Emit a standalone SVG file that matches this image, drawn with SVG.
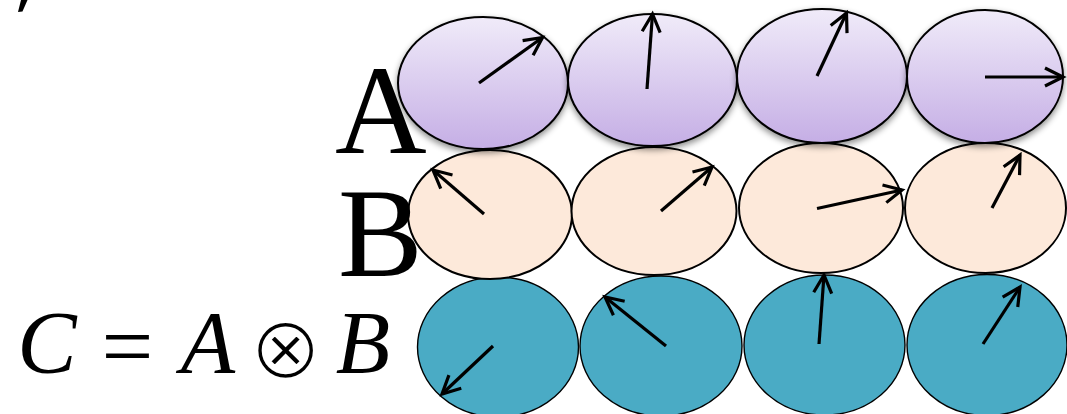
<svg xmlns="http://www.w3.org/2000/svg" width="1067" height="414" viewBox="0 0 1067 414">
  <style>
    .a { fill: url(#purple); stroke: #000; stroke-width: 2; filter: url(#shadow); }
    .b { fill: #fde9da; stroke: #000; stroke-width: 2; }
    .c { fill: #4aabc5; stroke: #000; stroke-width: 1.4; }
    .v { fill: none; stroke: #000; stroke-width: 3.2; marker-end: url(#head); }
    .big { font-family: "Liberation Serif", "Times New Roman", serif; font-size: 127px; fill: #000; }
    .math { font-family: "Liberation Serif", "Times New Roman", serif; font-style: italic; font-size: 89px; fill: #000; text-anchor: middle; }
    .eq { font-family: "Liberation Serif", "Times New Roman", serif; fill: #000; text-anchor: middle; }
    .op { font-family: "DejaVu Sans", sans-serif; fill: #000; stroke: #fff; stroke-width: 3; text-anchor: middle; }
  </style>
  <defs>
    <linearGradient id="purple" x1="0" y1="0" x2="0" y2="1">
      <stop offset="0" stop-color="#f0ebf9"/>
      <stop offset="1" stop-color="#c5aee5"/>
    </linearGradient>
    <filter id="shadow" x="-10%" y="-10%" width="120%" height="130%">
      <feDropShadow dx="0" dy="3" stdDeviation="3" flood-color="#000" flood-opacity="0.45"/>
    </filter>
    <marker id="head" markerUnits="userSpaceOnUse" markerWidth="40" markerHeight="40" refX="0" refY="0" orient="auto" overflow="visible">
      <path d="M-18,-9 L0,0 L-18,9" fill="none" stroke="#000" stroke-width="3.2" stroke-linejoin="miter"/>
    </marker>
  </defs>

  <rect width="1067" height="414" fill="#fff"/>

  <!-- partial mark at top-left -->
  <polygon points="21,0 27.5,0 22.5,11.5 18,12" fill="#000"/>

  <!-- Row C -->
  <g id="C1"><ellipse class="c" cx="498" cy="347" rx="80.5" ry="70"/><line class="v" x1="493" y1="346" x2="442" y2="394"/></g>
  <g id="C2"><ellipse class="c" cx="661" cy="346" rx="81" ry="70"/><line class="v" x1="666" y1="346" x2="605" y2="297"/></g>
  <g id="C3"><ellipse class="c" cx="824.5" cy="345" rx="80.5" ry="70"/><line class="v" x1="819" y1="344" x2="824" y2="275"/></g>
  <g id="C4"><ellipse class="c" cx="987" cy="345" rx="80" ry="70.5"/><line class="v" x1="983" y1="344" x2="1020" y2="287"/></g>

  <!-- Row B -->
  <g id="B1"><ellipse class="b" cx="490" cy="214.5" rx="82" ry="64.5"/><line class="v" x1="484" y1="214" x2="433" y2="170"/></g>
  <g id="B2"><ellipse class="b" cx="654" cy="211" rx="82.5" ry="64"/><line class="v" x1="661" y1="211" x2="712" y2="167"/></g>
  <g id="B3"><ellipse class="b" cx="821" cy="208" rx="82" ry="65"/><line class="v" x1="817" y1="208.5" x2="902" y2="190"/></g>
  <g id="B4"><ellipse class="b" cx="985.5" cy="208" rx="80.5" ry="65"/><line class="v" x1="992" y1="208" x2="1020" y2="155"/></g>

  <!-- Row A -->
  <g id="A1"><ellipse class="a" cx="483" cy="83" rx="85" ry="66"/><line class="v" x1="479" y1="83" x2="542.5" y2="37.5"/></g>
  <g id="A2"><ellipse class="a" cx="652.5" cy="80" rx="84.5" ry="66"/><line class="v" x1="647" y1="89" x2="652.5" y2="14"/></g>
  <g id="A3"><ellipse class="a" cx="822" cy="76" rx="85" ry="67"/><line class="v" x1="817" y1="76" x2="846.5" y2="13"/></g>
  <g id="A4"><ellipse class="a" cx="985" cy="76.5" rx="78" ry="66.5"/><line class="v" x1="985" y1="77" x2="1063" y2="77"/></g>

  <!-- Labels -->
  <g id="labelA"><text class="big" x="335" y="153">A</text></g>
  <g id="labelB"><text class="big" x="338" y="276">B</text></g>

  <g id="formula">
    <text class="math" x="47" y="372">C</text>
    <text class="eq" x="127.5" y="377" font-size="92">=</text>
    <text class="math" x="208" y="372">A</text>
    <text class="op" x="285.5" y="378" font-size="88">⊗</text>
    <text class="math" x="363" y="372">B</text>
  </g>

  <g id="connectors"></g>
</svg>
